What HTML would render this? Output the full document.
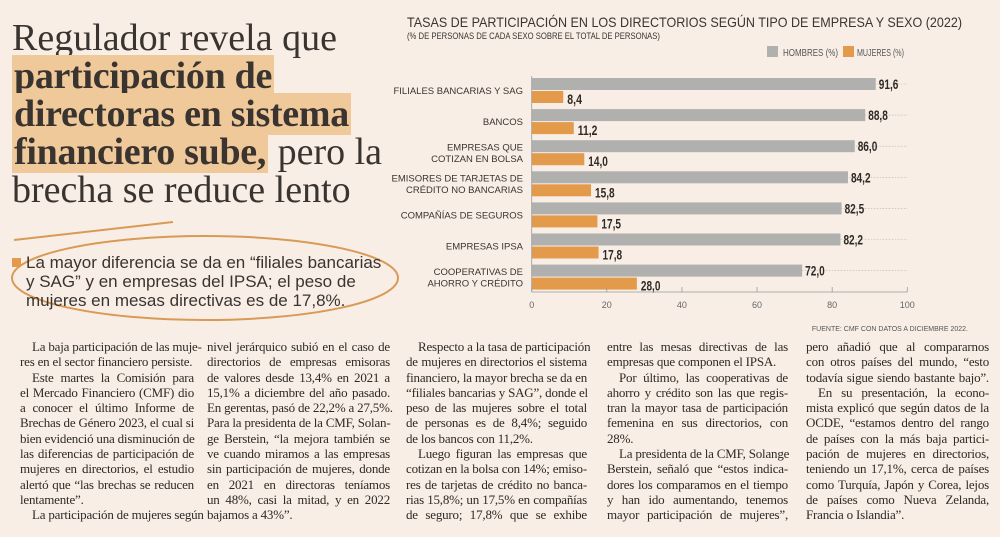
<!DOCTYPE html>
<html><head><meta charset="utf-8">
<style>
body{margin:0;width:1000px;height:537px;background:#f8eee6;overflow:hidden;position:relative;font-family:"Liberation Serif",serif;color:#2e2a26}
.h{position:absolute;left:12px;font-size:38px;line-height:38px;white-space:nowrap;color:#3a3430}
.hl{background:#f0c99a;font-weight:bold;padding:0 2px;letter-spacing:-0.3px}
.col{position:absolute;top:339px;width:178px;font-size:13px;line-height:15.3px;letter-spacing:-0.2px}
.col div{text-align:justify;text-align-last:justify;white-space:nowrap;height:15.3px}
.col div.l{text-align-last:left}
.col div.i{text-indent:12px}
.sum{position:absolute;left:26px;top:253px;font-family:"Liberation Sans",sans-serif;font-size:17px;line-height:19px;color:#3a3430;white-space:nowrap}
</style></head><body>
<div class="h" style="top:19px">Regulador revela que</div>
<div class="h" style="top:57px"><span class="hl">participación de </span></div>
<div class="h" style="top:95px"><span class="hl">directoras en sistema </span></div>
<div class="h" style="top:133px"><span class="hl">financiero sube,</span> pero la</div>
<div class="h" style="top:171px">brecha se reduce lento</div>

<svg style="position:absolute;left:0;top:0" width="420" height="330">
<line x1="14" y1="240" x2="173" y2="222" stroke="#d99a55" stroke-width="2"/>
<ellipse cx="205" cy="278" rx="193" ry="42" fill="none" stroke="#d99a55" stroke-width="2"/>
<rect x="12" y="258" width="9" height="9" fill="#e39a4a"/>
</svg>
<div class="sum">La mayor diferencia se da en “filiales bancarias<br>y SAG” y en empresas del IPSA; el peso de<br>mujeres en mesas directivas es de 17,8%.</div>

<div class="col" style="left:20px;width:174px">
<div class="i">La baja participación de las muje-</div><div class="l">res en el sector financiero persiste.</div>
<div class="i">Este martes la Comisión para</div><div>el Mercado Financiero (CMF) dio</div><div>a conocer el último Informe de</div><div>Brechas de Género 2023, el cual si</div><div>bien evidenció una disminución de</div><div>las diferencias de participación de</div><div>mujeres en directorios, el estudio</div><div>alertó que “las brechas se reducen</div><div class="l">lentamente”.</div><div class="i">La participación de mujeres según</div></div>
<div class="col" style="left:207px;width:183px">
<div>nivel jerárquico subió en el caso de</div><div>directorios de empresas emisoras</div><div>de valores desde 13,4% en 2021 a</div><div>15,1% a diciembre del año pasado.</div><div>En gerentas, pasó de 22,2% a 27,5%.</div><div>Para la presidenta de la CMF, Solan-</div><div>ge Berstein, “la mejora también se</div><div>ve cuando miramos a las empresas</div><div>sin participación de mujeres, donde</div><div>en 2021 en directoras teníamos</div><div>un 48%, casi la mitad, y en 2022</div><div class="l">bajamos a 43%”.</div></div>
<div class="col" style="left:406px;width:181px">
<div class="i">Respecto a la tasa de participación</div><div>de mujeres en directorios el sistema</div><div>financiero, la mayor brecha se da en</div><div>“filiales bancarias y SAG”, donde el</div><div>peso de las mujeres sobre el total</div><div>de personas es de 8,4%; seguido</div><div class="l">de los bancos con 11,2%.</div><div class="i">Luego figuran las empresas que</div><div>cotizan en la bolsa con 14%; emiso-</div><div>res de tarjetas de crédito no banca-</div><div>rias 15,8%; un 17,5% en compañías</div><div>de seguro; 17,8% que se exhibe</div></div>
<div class="col" style="left:607px;width:181px">
<div>entre las mesas directivas de las</div><div class="l">empresas que componen el IPSA.</div><div class="i">Por último, las cooperativas de</div><div>ahorro y crédito son las que regis-</div><div>tran la mayor tasa de participación</div><div>femenina en sus directorios, con</div><div class="l">28%.</div><div class="i">La presidenta de la CMF, Solange</div><div>Berstein, señaló que “estos indica-</div><div>dores los comparamos en el tiempo</div><div>y han ido aumentando, tenemos</div><div>mayor participación de mujeres”,</div></div>
<div class="col" style="left:806px;width:183px">
<div>pero añadió que al compararnos</div><div>con otros países del mundo, “esto</div><div>todavía sigue siendo bastante bajo”.</div><div class="i">En su presentación, la econo-</div><div>mista explicó que según datos de la</div><div>OCDE, “estamos dentro del rango</div><div>de países con la más baja partici-</div><div>pación de mujeres en directorios,</div><div>teniendo un 17,1%, cerca de países</div><div>como Turquía, Japón y Corea, lejos</div><div>de países como Nueva Zelanda,</div><div class="l">Francia o Islandia”.</div></div>

<svg id="chart" style="position:absolute;left:0;top:0" width="1000" height="340" font-family="'Liberation Sans Narrow','Liberation Sans',sans-serif">
<text x="407" y="27" font-size="14" fill="#3a3430" textLength="555" lengthAdjust="spacingAndGlyphs">TASAS DE PARTICIPACIÓN EN LOS DIRECTORIOS SEGÚN TIPO DE EMPRESA Y SEXO (2022)</text>
<text x="407" y="39" font-size="9" fill="#3a3430" textLength="253" lengthAdjust="spacingAndGlyphs">(% DE PERSONAS DE CADA SEXO SOBRE EL TOTAL DE PERSONAS)</text>
<rect x="767" y="46" width="11" height="11" fill="#b0b0ae"/>
<text x="783" y="56" font-size="10" fill="#555" textLength="55" lengthAdjust="spacingAndGlyphs">HOMBRES (%)</text>
<rect x="843" y="46" width="11" height="11" fill="#e39a4a"/>
<text x="857" y="56" font-size="10" fill="#555" textLength="47" lengthAdjust="spacingAndGlyphs">MUJERES (%)</text>
<text x="968" y="331" font-size="7" fill="#555" text-anchor="end">FUENTE: CMF CON DATOS A DICIEMBRE 2022.</text>
<g id="plot"></g>
</svg>
<script>
const categories=[["FILIALES BANCARIAS Y SAG"],["BANCOS"],["EMPRESAS QUE","COTIZAN EN BOLSA"],["EMISORES DE TARJETAS DE","CRÉDITO NO BANCARIAS"],["COMPAÑÍAS DE SEGUROS"],["EMPRESAS IPSA"],["COOPERATIVAS DE","AHORRO Y CRÉDITO"]];
const hombres=[91.6,88.8,86.0,84.2,82.5,82.2,72.0];
const mujeres=[8.4,11.2,14.0,15.8,17.5,17.8,28.0];
const ticks=[0,20,40,60,80,100];
const NS="http://www.w3.org/2000/svg";
const g=document.getElementById('plot');
const x0=531.7,x1=907.3,top0=78,pitch=31.1,bh=12;
const X=v=>x0+(x1-x0)*v/100;
const Y=i=>top0+i*pitch;
function mk(t,a){const e=document.createElementNS(NS,t);for(const k in a)e.setAttribute(k,a[k]);g.appendChild(e);return e;}
const fmt=v=>v.toFixed(1).replace('.',',');
const lw=s=>s.length*4.9;
categories.forEach((c,i)=>{
  const y=Y(i);
  let d=mk('line',{x1:X(0),x2:X(100),y1:y+6,y2:y+6,stroke:'#b8b0a8','stroke-width':0.6,'stroke-dasharray':'1.5,1.5'});
  
  
  let r=mk('rect',{x:X(0),y:y,width:X(hombres[i])-X(0),height:bh,fill:'#b0b0ae'});
  
  
  const s1=fmt(hombres[i]);
  let t=mk('text',{x:X(hombres[i])+3,y:y+11,'font-size':14,'font-weight':'bold',fill:'#2e2a26',textLength:lw(s1),lengthAdjust:'spacingAndGlyphs'});t.textContent=s1;
  
  
  let r2=mk('rect',{x:X(0),y:y+bh+1,width:X(mujeres[i])-X(0),height:bh,fill:'#e39a4a'});
  
  
  const s2=fmt(mujeres[i]);
  let t2=mk('text',{x:X(mujeres[i])+4,y:y+bh+14,'font-size':14,'font-weight':'bold',fill:'#2e2a26',textLength:lw(s2),lengthAdjust:'spacingAndGlyphs'});t2.textContent=s2;
  
  
  const cy=y+bh+1-(c.length-1)*5.7+3;
  c.forEach((s,j)=>{let l=mk('text',{x:523,y:cy+j*11.4,'font-size':9.5,'text-anchor':'end',fill:'#3a3430'});l.textContent=s;
    
    });
});
let ax=mk('line',{x1:X(0),x2:X(100),y1:292,y2:292,stroke:'#999','stroke-width':0.8});


let ay=mk('line',{x1:X(0),x2:X(0),y1:76,y2:292,stroke:'#999','stroke-width':0.8});


ticks.forEach(v=>{
  let tk=mk('line',{x1:X(v),x2:X(v),y1:287,y2:292,stroke:'#999','stroke-width':0.8});
  
  
  let tl=mk('text',{x:X(v),y:308,'font-size':9,'text-anchor':'middle',fill:'#666'});tl.textContent=v;
  
  
});
</script>
</body></html>
